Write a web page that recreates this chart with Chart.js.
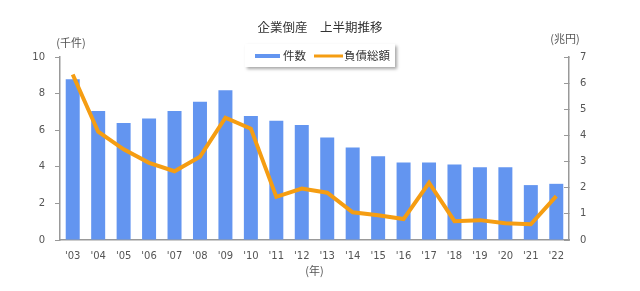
<!DOCTYPE html>
<html>
<head>
<meta charset="utf-8">
<script src="https://cdn.jsdelivr.net/npm/chart.js@4.4.0/dist/chart.umd.min.js"></script>
<style>
  html, body { margin: 0; padding: 0; background: #fff; }
  #wrap { width: 640px; height: 291px; }
</style>
</head>
<body>
<div id="wrap"><canvas id="chart-area" width="640" height="291"></canvas></div>
<script>
// 企業倒産 上半期推移
var years = ["'03", "'04", "'05", "'06", "'07", "'08", "'09", "'10", "'11", "'12",
             "'13", "'14", "'15", "'16", "'17", "'18", "'19", "'20", "'21", "'22"];
// 件数 (千件)
var counts = [8.78, 7.05, 6.4, 6.64, 7.05, 7.55, 8.18, 6.78, 6.51, 6.29,
              5.6, 5.06, 4.58, 4.24, 4.24, 4.13, 3.98, 3.98, 3.0, 3.07];
// 負債総額 (兆円)
var debts = [6.33, 4.14, 3.47, 2.95, 2.63, 3.18, 4.68, 4.26, 1.65, 1.97,
             1.81, 1.06, 0.95, 0.8, 2.19, 0.72, 0.76, 0.64, 0.6, 1.68];
var leftTicks = [0, 2, 4, 6, 8, 10];
var rightTicks = [0, 1, 2, 3, 4, 5, 6, 7];

var barColor = '#6395F0';
var lineColor = '#F59D12';
var textColor = '#555555';
var axisColor = '#999999';
var jp = '"Noto Sans CJK JP", "Noto Sans", sans-serif';
var num = '"DejaVu Sans", Verdana, sans-serif';

// title, unit labels and legend box
var extras = {
  id: 'extras',
  afterDraw: function(chart) {
    var c = chart.ctx;
    c.save();
    c.fillStyle = '#333333';
    c.font = '12.5px ' + jp;
    c.textAlign = 'center';
    c.textBaseline = 'middle';
    c.fillText('企業倒産　上半期推移', 320, 27);

    c.fillStyle = textColor;
    c.font = '11px ' + jp;
    c.fillText('(千件)', 71, 43);
    c.fillText('(兆円)', 565, 39);

    // legend
    var bx = 245, by = 44, bw = 150, bh = 23;
    c.shadowColor = 'rgba(0,0,0,0.35)';
    c.shadowBlur = 3;
    c.shadowOffsetX = 2;
    c.shadowOffsetY = 2;
    c.fillStyle = '#ffffff';
    c.fillRect(bx, by, bw, bh);
    c.shadowColor = 'transparent';

    var ds = chart.data.datasets;
    var ly = 56;
    c.font = '11.5px ' + jp;
    c.textAlign = 'left';
    c.fillStyle = ds[0].backgroundColor;
    c.fillRect(255, ly - 2, 25, 4);
    c.fillStyle = '#333333';
    c.fillText(ds[0].label, 283, ly);
    c.strokeStyle = ds[1].borderColor;
    c.lineWidth = 3;
    c.beginPath();
    c.moveTo(314, ly);
    c.lineTo(343, ly);
    c.stroke();
    c.fillStyle = '#333333';
    c.fillText(ds[1].label, 344, ly);
    c.restore();
  }
};

var config = {
  type: 'bar',
  data: {
    labels: years,
    datasets: [{
      label: '件数',
      data: counts,
      backgroundColor: barColor,
      yAxisID: 'y',
      barPercentage: 0.55,
      categoryPercentage: 1.0,
      order: 2
    }, {
      type: 'line',
      label: '負債総額',
      data: debts,
      borderColor: lineColor,
      backgroundColor: lineColor,
      borderWidth: 4,
      pointRadius: 0,
      tension: 0,
      yAxisID: 'y1',
      order: 1
    }]
  },
  options: {
    responsive: false,
    animation: false,
    layout: { padding: { top: 57, left: 0, right: 0, bottom: 0 } },
    plugins: {
      legend: { display: false },
      title: { display: false },
      tooltip: { enabled: false }
    },
    scales: {
      x: {
        offset: true,
        grid: { display: false },
        border: { color: axisColor, width: 1.5 },
        ticks: { color: textColor, font: { family: num, size: 10 }, padding: 2, maxRotation: 0, autoSkip: false },
        title: { display: true, text: '(年)', color: textColor, font: { family: jp, size: 11 }, padding: { top: 0, bottom: 14 } },
        afterFit: function(s) { s.height = 51; }
      },
      y: {
        position: 'left',
        min: 0, max: 10,
        afterBuildTicks: function(s) { s.ticks = leftTicks.map(function(v) { return { value: v }; }); },
        grid: { drawOnChartArea: false, drawTicks: true, tickLength: 5, color: axisColor },
        border: { color: axisColor, width: 1.5 },
        ticks: { color: textColor, font: { family: num, size: 10 }, padding: 10 },
        afterFit: function(s) { s.width = 60; }
      },
      y1: {
        position: 'right',
        min: 0, max: 7,
        afterBuildTicks: function(s) { s.ticks = rightTicks.map(function(v) { return { value: v }; }); },
        grid: { drawOnChartArea: false, drawTicks: true, tickLength: -5, color: axisColor },
        border: { color: axisColor, width: 1.5 },
        ticks: { color: textColor, font: { family: num, size: 10 }, padding: 16 },
        afterFit: function(s) { s.width = 71; }
      }
    }
  },
  plugins: [extras]
};

var ctx = document.getElementById('chart-area').getContext('2d');
var myChart = new Chart(ctx, config);
</script>
</body>
</html>
